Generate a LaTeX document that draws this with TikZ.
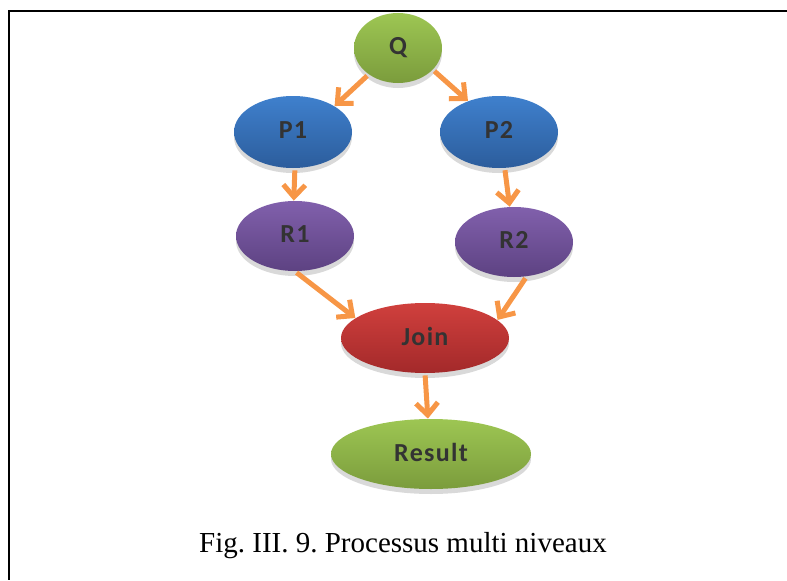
\documentclass[tikz,border=0pt]{standalone}
\usepackage{fontspec}
\setmainfont{Liberation Serif}
\newfontfamily\blobfont[LetterSpace=5]{Carlito}
\usetikzlibrary{positioning,shapes.geometric,shadows,arrows.meta}
\definecolor{gTop}{HTML}{9DC653}
\definecolor{gBot}{HTML}{7B9C3C}
\definecolor{bTop}{HTML}{3F80CD}
\definecolor{bBot}{HTML}{2C5D9C}
\definecolor{vTop}{HTML}{8160AC}
\definecolor{vBot}{HTML}{5D4282}
\definecolor{rTop}{HTML}{D0403D}
\definecolor{rBot}{HTML}{A3292A}
\definecolor{flowOrange}{HTML}{F79646}
\frenchspacing

\begin{document}
\begin{tikzpicture}[x=0.5pt,y=0.5pt,>={Straight Barb[length=6pt,width=11pt]}]
  \tikzstyle{blob}=[ellipse,inner sep=0pt,minimum height=35pt,text=black!80,
    font=\blobfont\bfseries\fontsize{13}{15}\selectfont,
    drop shadow={shadow xshift=0pt,shadow yshift=-2.5pt,opacity=0.3}]
  \tikzstyle{flow}=[->,line width=2.5pt,draw=flowOrange,shorten <=1pt]
  \useasboundingbox (0,0) rectangle (787,580);
  \draw[line width=1pt] (787,569) -- (9,569) -- (9,0);
  \node[blob,minimum width=44pt,top color=gTop,bottom color=gBot] (q) at (398,532) {\raisebox{2pt}{Q}};
  \node[blob,on grid,below left=42pt and 52.5pt of q,minimum width=59pt,minimum height=36pt,top color=bTop,bottom color=bBot] (p1) {\raisebox{2pt}{P1}};
  \node[blob,on grid,below right=42pt and 50.5pt of q,minimum width=59pt,minimum height=36pt,top color=bTop,bottom color=bBot] (p2) {\raisebox{2pt}{P2}};
  \node[blob,on grid,below right=52pt and 1pt of p1,minimum width=59pt,top color=vTop,bottom color=vBot] (r1) {\raisebox{2pt}{R1}};
  \node[blob,on grid,below right=55pt and 7.5pt of p2,minimum width=59pt,top color=vTop,bottom color=vBot] (r2) {\raisebox{2pt}{R2}};
  \node[blob,on grid,below right=145pt and 13.5pt of q,minimum width=84pt,top color=rTop,bottom color=rBot] (join) {\raisebox{2pt}{Join}};
  \node[blob,on grid,below right=58pt and 3pt of join,minimum width=100pt,top color=gTop,bottom color=gBot] (res) {\raisebox{2pt}{Result}};
  \node[font=\fontsize{14.5}{17}\selectfont] (cap) at (403,34) {Fig. III. 9. Processus multi niveaux};
  \draw[flow] (q.-138) -- (p1.32);
  \draw[flow] (q.-32) -- (p2.135);
  \draw[flow] (p1.-87) -- (r1.92);
  \draw[flow] (p2.-81) -- (r2.97);
  \draw[flow] (r1.south) -- (join.164);
  \draw[flow] (r2.-70) -- (join.14);
  \draw[flow] (join.south) -- (res.95);
\end{tikzpicture}
\end{document}
